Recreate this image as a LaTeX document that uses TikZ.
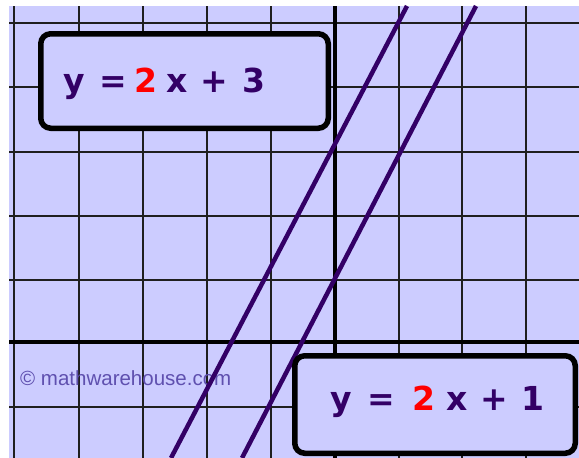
\documentclass[tikz,border=0pt]{standalone}
\usepackage{fontspec}
\setmainfont{DejaVu Sans}
\newfontfamily\arialf{Liberation Sans}
\definecolor{lav}{RGB}{204,204,255}
\definecolor{inkp}{RGB}{51,0,102}
\definecolor{wm}{RGB}{95,80,175}
\begin{document}
\begin{tikzpicture}[x=1pt,y=-1pt,
  gridline/.style={line width=2pt, draw=black!88},
  axisline/.style={line width=4.5pt, draw=black},
  graphline/.style={line width=4.5pt, draw=inkp},
  eqbox/.style={draw=black, line width=5.5pt, fill=lav, rounded corners=10pt, inner sep=0pt},
  eqtext/.style={anchor=base west, inner sep=0pt, text=inkp, font=\bfseries\fontsize{33}{33}\selectfont},
  wmtext/.style={anchor=base west, inner sep=0pt, text=wm, font=\arialf\fontsize{20.5}{20.5}\selectfont}]
\useasboundingbox (0,0) rectangle (579,458);
\fill[white] (0,0) rectangle (579,458);
\fill[lav] (9,6) rectangle (579,458);
% grid
\foreach \x in {14,79,143,207,271,399,462,526} \draw[gridline] (\x,6) -- (\x,458);
\foreach \y in {23,87,152,216,280,407} \draw[gridline] (9,\y) -- (579,\y);
% axes
\draw[axisline] (335,6) -- (335,458);
\draw[axisline] (9,342) -- (579,342);
% watermark
\node[wmtext] (wm) at (20,385) {© mathwarehouse.com};
% graph lines
\coordinate (l1top) at (407,6);
\coordinate (l1bot) at (171,458);
\coordinate (l2top) at (476,6);
\coordinate (l2bot) at (242,458);
\draw[graphline] (l1top) -- (l1bot);
\draw[graphline] (l2top) -- (l2bot);
% boxes
\node[eqbox, minimum width=287.5pt, minimum height=94.5pt] (box1) at (184.5,81) {};
\node[eqbox, minimum width=280.5pt, minimum height=97.5pt] (box2) at (435,404.5) {};
\node[eqtext] (eq1) at (63.5,92) {y\hspace{13.8pt}=\hspace{7.6pt}\textcolor{red}{2}\hspace{9.4pt}x\hspace{12.4pt}+\hspace{14.6pt}3};
\node[eqtext] (eq2) at (330.5,410) {y\hspace{15.8pt}=\hspace{16.6pt}\textcolor{red}{2}\hspace{11.4pt}x\hspace{12.4pt}+\hspace{13.3pt}1};
\end{tikzpicture}
\end{document}
